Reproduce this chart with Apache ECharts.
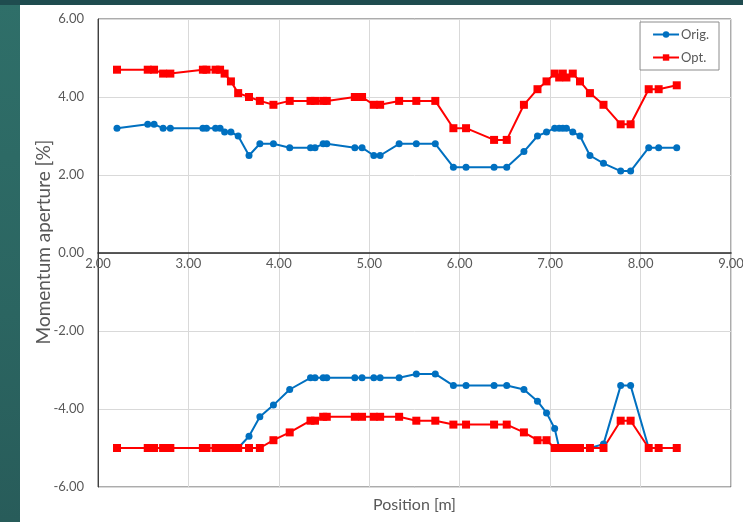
<!DOCTYPE html>
<html>
<head>
<meta charset="utf-8">
<script src="https://cdn.jsdelivr.net/npm/echarts@6/dist/echarts.min.js"></script>
<style>
    html, body { margin: 0; padding: 0; width: 743px; height: 522px; overflow: hidden; }
    body { background: linear-gradient(180deg, #2f6f69 0%, #2b6561 60%, #285c5a 100%); position: relative; }
    #sheet { position: absolute; left: 20px; top: 5px; right: 0; bottom: 0; background: #ffffff; }
    #top_band { position: absolute; left: 0; top: 0; right: 0; height: 5px; background: #1f4c4f; }
    #chart { position: absolute; left: 0; top: 0; width: 743px; height: 522px; }
</style>
</head>
<body>
<div id="top_band"></div>
<div id="sheet"></div>
<div id="chart"></div>
<script>
// positions along the line [m], shared by all four curves
let pos = [2.21, 2.55, 2.62, 2.72, 2.80, 3.16, 3.20, 3.30, 3.35, 3.40, 3.47, 3.55, 3.67, 3.79, 3.94,
    4.12, 4.35, 4.40, 4.49, 4.53, 4.84, 4.92, 5.05, 5.12, 5.33, 5.52, 5.73, 5.93, 6.07, 6.38, 6.52,
    6.71, 6.86, 6.96, 7.05, 7.10, 7.14, 7.18, 7.25, 7.33, 7.44, 7.59, 7.78, 7.89, 8.09, 8.20, 8.40]

// positive side
let orig_pos = [3.2, 3.3, 3.3, 3.2, 3.2, 3.2, 3.2, 3.2, 3.2, 3.1, 3.1, 3.0, 2.5, 2.8, 2.8,
    2.7, 2.7, 2.7, 2.8, 2.8, 2.7, 2.7, 2.5, 2.5, 2.8, 2.8, 2.8, 2.2, 2.2, 2.2, 2.2,
    2.6, 3.0, 3.1, 3.2, 3.2, 3.2, 3.2, 3.1, 3.0, 2.5, 2.3, 2.1, 2.1, 2.7, 2.7, 2.7]
let opt_pos = [4.7, 4.7, 4.7, 4.6, 4.6, 4.7, 4.7, 4.7, 4.7, 4.6, 4.4, 4.1, 4.0, 3.9, 3.8,
    3.9, 3.9, 3.9, 3.9, 3.9, 4.0, 4.0, 3.8, 3.8, 3.9, 3.9, 3.9, 3.2, 3.2, 2.9, 2.9,
    3.8, 4.2, 4.4, 4.6, 4.5, 4.6, 4.5, 4.6, 4.4, 4.1, 3.8, 3.3, 3.3, 4.2, 4.2, 4.3]

// negative side
let orig_neg = [-5.0, -5.0, -5.0, -5.0, -5.0, -5.0, -5.0, -5.0, -5.0, -5.0, -5.0, -5.0, -4.7, -4.2, -3.9,
    -3.5, -3.2, -3.2, -3.2, -3.2, -3.2, -3.2, -3.2, -3.2, -3.2, -3.1, -3.1, -3.4, -3.4, -3.4, -3.4,
    -3.5, -3.8, -4.1, -4.5, -5.0, -5.0, -5.0, -5.0, -5.0, -5.0, -4.9, -3.4, -3.4, -5.0, -5.0, -5.0]
let opt_neg = [-5.0, -5.0, -5.0, -5.0, -5.0, -5.0, -5.0, -5.0, -5.0, -5.0, -5.0, -5.0, -5.0, -5.0, -4.8,
    -4.6, -4.3, -4.3, -4.2, -4.2, -4.2, -4.2, -4.2, -4.2, -4.2, -4.3, -4.3, -4.4, -4.4, -4.4, -4.4,
    -4.6, -4.8, -4.8, -5.0, -5.0, -5.0, -5.0, -5.0, -5.0, -5.0, -5.0, -4.3, -4.3, -5.0, -5.0, -5.0]

let x_ticks = ['2.00', '3.00', '4.00', '5.00', '6.00', '7.00', '8.00', '9.00']

function pairs(xs, ys) {
    let out = []
    for (let i = 0; i < xs.length; i++) {
        out.push([xs[i], ys[i]])
    }
    return out
}

const blue = '#0070c0'
const red = '#ff0000'
const grey_text = '#595959'
const font = 'Lato'

// plot box: top 19, bottom 35, height 468 -> y = 0 sits 234 px above the bottom edge
const grid_h = 522 - 19 - 35

function line_series(name, data, color, symbol, size) {
    return {
        name: name,
        type: 'line',
        data: data,
        symbol: symbol,
        symbolSize: size,
        showSymbol: true,
        lineStyle: { color: color, width: 2 },
        itemStyle: { color: color },
        emphasis: { disabled: true },
        animation: false
    }
}

let option = {
    backgroundColor: 'transparent',
    textStyle: { fontFamily: font },
    grid: {
        left: 98, right: 12, top: 19, bottom: 35,
        containLabel: false,
        outerBoundsMode: 'none',
        show: true,
        borderColor: '#595959',
        borderWidth: 1
    },
    legend: {
        data: ['Orig.', 'Opt.'],
        orient: 'vertical',
        right: 24,
        top: 22,
        backgroundColor: '#ffffff',
        borderColor: '#8c8c8c',
        borderWidth: 1,
        borderRadius: 0,
        padding: [6, 10, 6, 12],
        itemWidth: 26,
        itemHeight: 8,
        itemGap: 10,
        textStyle: { color: grey_text, fontSize: 13, fontFamily: font, padding: [0, 0, 0, -3] }
    },
    xAxis: [
        {
            // bottom edge: gridlines + axis title
            type: 'value',
            position: 'bottom',
            min: 2,
            max: 9,
            interval: 1,
            name: 'Position [m]',
            nameLocation: 'middle',
            nameGap: 10,
            nameMoveOverlap: false,
            nameTextStyle: { color: grey_text, fontSize: 16, fontFamily: font },
            axisLine: { show: false, onZero: false },
            axisTick: { show: false },
            axisLabel: { show: false },
            splitLine: { show: true, lineStyle: { color: '#d9d9d9', width: 1 } }
        },
        {
            // the labelled axis drawn through y = 0
            type: 'value',
            position: 'bottom',
            offset: -grid_h / 2,
            min: 2,
            max: 9,
            interval: 1,
            axisLine: { show: true, onZero: false, lineStyle: { color: '#262626', width: 1.5 } },
            axisTick: { show: false },
            axisLabel: {
                color: grey_text, fontSize: 13, margin: 4, fontFamily: font,
                formatter: function (v) { return x_ticks[Math.round(v) - 2] }
            },
            splitLine: { show: false }
        }
    ],
    yAxis: {
        type: 'value',
        min: -6,
        max: 6,
        interval: 2,
        name: 'Momentum aperture [%]',
        nameLocation: 'middle',
        nameGap: 45,
        nameMoveOverlap: false,
        nameTextStyle: { color: grey_text, fontSize: 19, fontFamily: font, padding: [0, 0, 0, 22] },
        axisLine: { show: true, onZero: false, lineStyle: { color: '#404040', width: 1 } },
        axisTick: { show: false },
        axisLabel: {
            color: grey_text, fontSize: 13, margin: 14, fontFamily: font,
            formatter: function (v) { return v.toFixed(2) }
        },
        splitLine: { show: true, lineStyle: { color: '#d9d9d9', width: 1 } }
    },
    series: [
        line_series('Orig.', pairs(pos, orig_pos), blue, 'circle', 7),
        line_series('Opt.', pairs(pos, opt_pos), red, 'rect', 8),
        line_series('Orig.', pairs(pos, orig_neg), blue, 'circle', 7),
        line_series('Opt.', pairs(pos, opt_neg), red, 'rect', 8)
    ]
}

const dom = document.getElementById('chart')
const myChart = echarts.init(dom, null, { renderer: 'canvas' })
myChart.setOption(option, true)
</script>
</body>
</html>
